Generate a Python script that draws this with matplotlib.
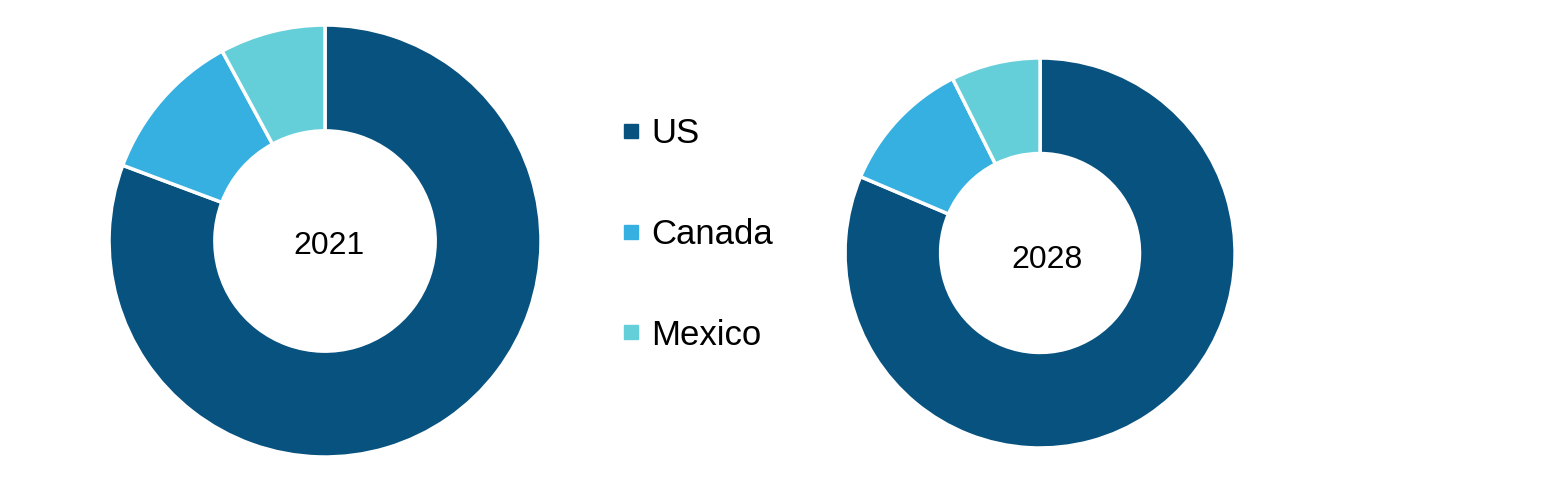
import matplotlib.pyplot as plt
from matplotlib.lines import Line2D

regions = ["US", "Canada", "Mexico"]
share_2021 = [80.7, 11.4, 7.9]
share_2028 = [81.4, 11.2, 7.4]
years = ["2021", "2028"]
colors = ["#08527F", "#35B0E0", "#65CFD9"]

plt.rcParams['font.family'] = ['Liberation Sans', 'DejaVu Sans']

fig = plt.figure(figsize=(15.6, 4.8), dpi=100)

# axes boxes put each donut where it sits in the picture
ax1 = fig.add_axes([0.0699, 0.0479, 0.2769, 0.9])
ax2 = fig.add_axes([0.5417, 0.0667, 0.25, 0.8125])

for ax, vals, year, off in [(ax1, share_2021, years[0], (0.02, -0.025)),
                            (ax2, share_2028, years[1], (0.035, -0.035))]:
    ax.pie(vals, colors=colors, startangle=90, counterclock=False, radius=1,
           wedgeprops=dict(width=0.49, edgecolor="white", linewidth=2.5))
    ax.text(off[0], off[1], year, ha="center", va="center", fontsize=23, color="black")
    ax.set_xlim(-1, 1)
    ax.set_ylim(-1, 1)
    ax.set_aspect("equal")
    ax.axis("off")

handles = [Line2D([0], [0], marker="s", linestyle="none", markersize=10,
                  markerfacecolor=c, markeredgecolor=c) for c in colors]
fig.legend(handles, regions, loc="upper left", bbox_to_anchor=(0.379, 0.821),
           frameon=False, fontsize=25, labelspacing=1.95, handlelength=0.5,
           handletextpad=0.33)

fig.savefig("out.png", dpi=100)
